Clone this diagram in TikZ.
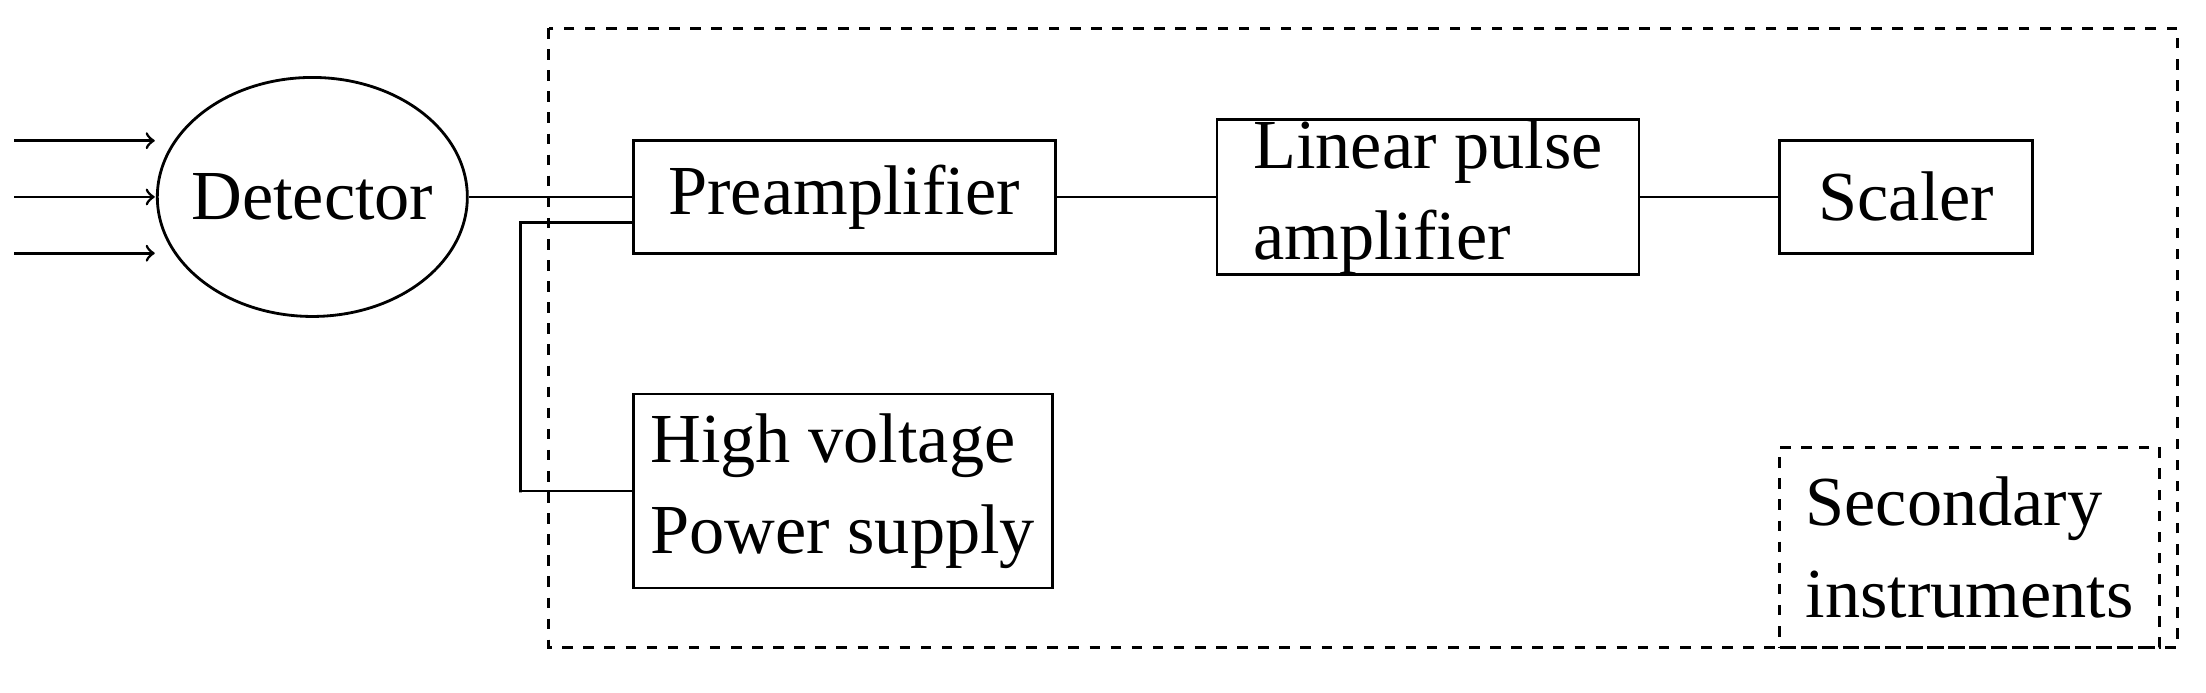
\documentclass[tikz,border=0pt]{standalone}
\usepackage{fontspec}
\setmainfont{Liberation Serif}
\usetikzlibrary{positioning,calc,shapes}
\tikzstyle{block} = [draw, thick, rectangle, inner sep=0pt, align=left, font=\fontsize{20}{26}\selectfont]
\tikzstyle{arrow} = [thick,->,>=to]
\tikzstyle{wire} = [thick]

\begin{document}
\begin{tikzpicture}[x=0.01407cm, y=-0.01407cm]
    \useasboundingbox (0,0) rectangle (1568,492);

    \draw[thick, dashed] (390,20) rectangle (1548,460);
    \node[draw, thick, ellipse, inner sep=0pt, minimum width=3.10cm, minimum height=2.39cm,
          label={[font=\fontsize{20}{26}\selectfont]center:Detector}] (det) at (222,140) {};

    \node[block, minimum width=4.22cm, minimum height=1.13cm] (pre)  at (600,140)   {Preamplifier};
    \node[block, minimum width=4.22cm, minimum height=1.55cm] (lin)  at (1015,140)  {Linear pulse\\amplifier};
    \node[block, minimum width=2.53cm, minimum height=1.13cm] (sca)  at (1355,140)  {Scaler};
    \node[block, minimum width=4.19cm, minimum height=1.94cm] (hv)   at (599,349)   {High voltage\\Power supply};
    \node[block, dashed, minimum width=3.80cm, minimum height=2.00cm] (sec) at (1400,389) {Secondary\\instruments};

    \foreach \y in {100,140,180}
        \draw[arrow] (10,\y) -- (110,\y);

    \draw[wire] (det.east) -- (pre.west);
    \draw[wire] (pre.east) -- (lin.west);
    \draw[wire] (lin.east) -- (sca.west);
    \coordinate (tap) at ($(pre.west)+(0,18)$);
    \coordinate (bend) at (370,350);
    \draw[wire] (tap) -| (bend) |- (hv.west);

\end{tikzpicture}
\end{document}
